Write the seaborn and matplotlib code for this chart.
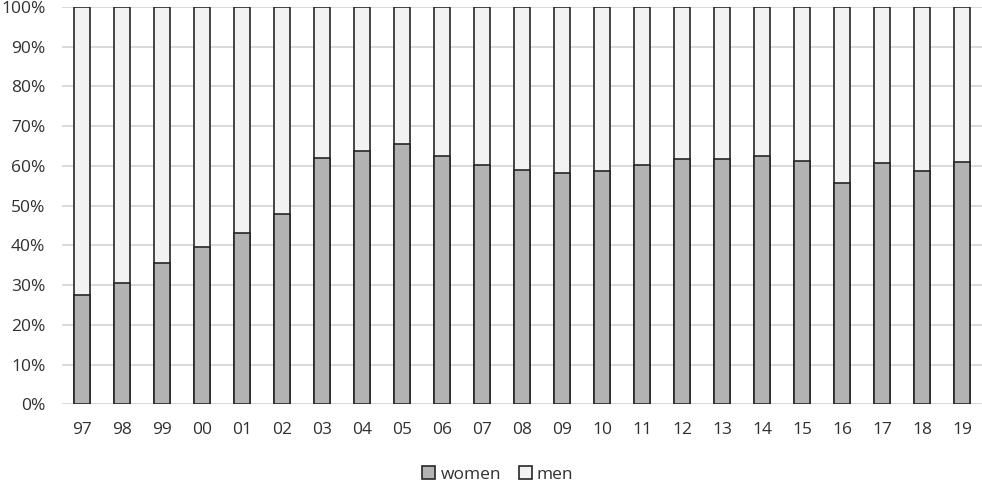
import matplotlib
matplotlib.use("Agg")
import matplotlib.pyplot as plt
import pandas as pd
import seaborn as sns
from matplotlib.patches import Patch
from matplotlib.ticker import PercentFormatter

years = ['97', '98', '99', '00', '01', '02', '03', '04', '05', '06', '07', '08',
         '09', '10', '11', '12', '13', '14', '15', '16', '17', '18', '19']
women = [27.6, 30.6, 35.6, 39.5, 43.2, 47.9, 61.9, 63.8, 65.6, 62.5, 60.3, 59.0,
         58.3, 58.8, 60.2, 61.6, 61.6, 62.5, 61.2, 55.7, 60.7, 58.8, 60.9]
men = [100 - w for w in women]

df = pd.DataFrame({'year': years, 'women': women, 'men': men})
df['total'] = df['women'] + df['men']

sns.set_style("white")
plt.rcParams['font.family'] = ['Open Sans', 'DejaVu Sans']

fig = plt.figure(figsize=(9.82, 4.83), dpi=100)
ax = fig.add_axes([0.0631, 0.163, 0.9369, 0.823])

# men sit on top of women: draw the full 100% bar first, then women over it
sns.barplot(x='year', y='total', data=df, order=years, color='#f2f2f2',
            edgecolor='#262626', linewidth=1.2, width=0.42, ax=ax, zorder=3)
sns.barplot(x='year', y='women', data=df, order=years, color='#b3b3b3',
            edgecolor='#262626', linewidth=1.2, width=0.42, ax=ax, zorder=4)
n = len(years)
for p in ax.patches[:n]:
    p.set_facecolor('#f2f2f2')
for p in ax.patches[n:]:
    p.set_facecolor('#b3b3b3')

ax.set_ylim(0, 100)
ax.set_xlim(-0.5, n - 0.5)
ax.set_yticks(range(0, 101, 10))
ax.yaxis.set_major_formatter(PercentFormatter(decimals=0))
ax.yaxis.grid(True, color='#d9d9d9', linewidth=1.4, zorder=0)
ax.set_axisbelow(True)
for s in ax.spines.values():
    s.set_visible(False)
ax.set_xlabel('')
ax.set_ylabel('')
ax.tick_params(axis='x', length=0, pad=13, labelsize=12.5, colors='#303030')
ax.tick_params(axis='y', length=0, pad=12, labelsize=12.5, colors='#303030')

handles = [Patch(facecolor='#b3b3b3', edgecolor='#262626', linewidth=1.2, label='women'),
           Patch(facecolor='#f2f2f2', edgecolor='#262626', linewidth=1.2, label='men')]
fig.legend(handles=handles, loc='center', bbox_to_anchor=(0.507, 0.018), ncol=2,
           frameon=False, fontsize=12.5, handlelength=0.75, handleheight=0.75,
           handletextpad=0.3, columnspacing=1.0, labelcolor='#303030',
           borderpad=0)

fig.savefig('out.png', dpi=100)
